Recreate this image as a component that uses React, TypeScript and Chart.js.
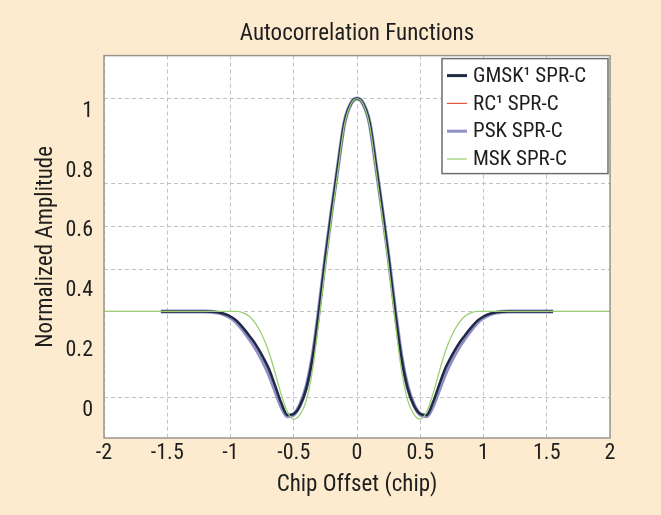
import React, { useEffect, useRef } from "react";
import { Chart, registerables } from "chart.js";

Chart.register(...registerables);

// ---------- text ----------
const chartTitle = "Autocorrelation Functions";
const xAxisTitle = "Chip Offset (chip)";
const yAxisTitle = "Normalized Amplitude";
const seriesNames = ["GMSK\u00B9 SPR-C", "RC\u00B9 SPR-C", "PSK SPR-C", "MSK SPR-C"];

// ---------- data ----------
const chipOffsets = [
  -2, -1.8, -1.6, -1.55, -1.4, -1.2, -1.15, -1.1, -1.05, -1, -0.95, -0.9, -0.85, -0.8, -0.75,
  -0.7, -0.65, -0.6, -0.55, -0.5, -0.45, -0.4, -0.35, -0.3, -0.25, -0.2, -0.15, -0.1, -0.05, 0,
  0.05, 0.1, 0.15, 0.2, 0.25, 0.3, 0.35, 0.4, 0.45, 0.5, 0.55, 0.6, 0.65, 0.7, 0.75,
  0.8, 0.85, 0.9, 0.95, 1, 1.05, 1.1, 1.15, 1.2, 1.4, 1.55, 1.6, 1.8, 2,
];

const gmskValues = [
  null, null, null, 0.287, 0.287, 0.287, 0.286, 0.284, 0.279, 0.27, 0.255, 0.232, 0.205, 0.176, 0.14,
  0.098, 0.042, -0.018, -0.06, -0.056, -0.028, 0.03, 0.135, 0.29, 0.465, 0.625, 0.775, 0.918, 0.982, 1.0,
  0.982, 0.918, 0.775, 0.625, 0.465, 0.29, 0.135, 0.03, -0.028, -0.056, -0.06, -0.018, 0.042, 0.098, 0.14,
  0.176, 0.205, 0.232, 0.255, 0.27, 0.279, 0.284, 0.286, 0.287, 0.287, 0.287, null, null, null,
];

const rcValues = [
  0.287, 0.287, 0.287, 0.287, 0.287, 0.287, 0.287, 0.285, 0.28, 0.271, 0.256, 0.234, 0.207, 0.178, 0.142,
  0.1, 0.044, -0.016, -0.059, -0.057, -0.03, 0.027, 0.132, 0.287, 0.462, 0.622, 0.772, 0.916, 0.981, 1.0,
  0.981, 0.916, 0.772, 0.622, 0.462, 0.287, 0.132, 0.027, -0.03, -0.057, -0.059, -0.016, 0.044, 0.1, 0.142,
  0.178, 0.207, 0.234, 0.256, 0.271, 0.28, 0.285, 0.287, 0.287, 0.287, 0.287, 0.287, 0.287, 0.287,
];

const pskValues = [
  null, null, null, 0.287, 0.287, 0.287, 0.286, 0.283, 0.277, 0.266, 0.249, 0.224, 0.195, 0.163, 0.125,
  0.08, 0.025, -0.03, -0.064, -0.058, -0.026, 0.035, 0.14, 0.295, 0.468, 0.625, 0.775, 0.918, 0.982, 1.0,
  0.982, 0.918, 0.775, 0.625, 0.468, 0.295, 0.14, 0.035, -0.026, -0.058, -0.064, -0.03, 0.025, 0.08, 0.125,
  0.163, 0.195, 0.224, 0.249, 0.266, 0.277, 0.283, 0.286, 0.287, 0.287, 0.287, null, null, null,
];

const mskValues = [
  0.287, 0.287, 0.287, 0.287, 0.287, 0.287, 0.287, 0.287, 0.287, 0.287, 0.287, 0.282, 0.27, 0.245, 0.207,
  0.155, 0.085, 0.01, -0.05, -0.074, -0.058, -0.01, 0.095, 0.26, 0.44, 0.605, 0.76, 0.91, 0.98, 1.0,
  0.98, 0.91, 0.76, 0.605, 0.44, 0.26, 0.095, -0.01, -0.058, -0.074, -0.05, 0.01, 0.085, 0.155, 0.207,
  0.245, 0.27, 0.282, 0.287, 0.287, 0.287, 0.287, 0.287, 0.287, 0.287, 0.287, 0.287, 0.287, 0.287,
];

const xTickValues = [-2, -1.5, -1, -0.5, 0, 0.5, 1, 1.5, 2];
const yTickValues = [0, 0.2, 0.4, 0.6, 0.8, 1];
const yGridValues = [0, 0.286, 0.429, 0.571, 0.714, 1];
const xRange = [-2, 2];
const yRange = [-0.137, 1.144];

// ---------- style ----------
const PAGE_BG = "#fdebcf";
const FONT = "'Roboto Condensed', 'Liberation Sans Narrow', 'DejaVu Sans Condensed', sans-serif";
const TEXT = "#1e1e1e";
const GRID = "#c2c2c2";

const seriesColors = ["#1f2a44", "#e2583e", "rgba(105,105,178,0.75)", "#9ccf74"];
const seriesWidths = [2.5, 1, 4, 1.3];
const seriesOrder = [1, 2, 3, 0];
const legendWidths = [3, 1.2, 3, 1.2];

const toPoints = (vals: (number | null)[]) =>
  chipOffsets
    .map((x, i) => ({ x, y: vals[i] }))
    .filter((p) => p.y !== null) as { x: number; y: number }[];

const allSeries = [gmskValues, rcValues, pskValues, mskValues];

const plotBgPlugin = {
  id: "plotBg",
  beforeDraw(chart: any) {
    const { ctx, chartArea: a } = chart;
    ctx.save();
    ctx.fillStyle = "#ffffff";
    ctx.fillRect(a.left, a.top, a.right - a.left, a.bottom - a.top);
    ctx.restore();
  },
  afterDatasetsDraw(chart: any) {
    const { ctx, chartArea: a } = chart;
    ctx.save();
    ctx.strokeStyle = "#9a968e";
    ctx.lineWidth = 1.5;
    ctx.strokeRect(a.left, a.top, a.right - a.left, a.bottom - a.top);
    ctx.restore();
  },
};

const insideLegendPlugin = {
  id: "insideLegend",
  afterDraw(chart: any) {
    const { ctx, chartArea: a } = chart;
    const boxW = 166;
    const boxH = 115;
    const x0 = a.right - 2 - boxW;
    const y0 = a.top + 3;
    ctx.save();
    ctx.fillStyle = "#ffffff";
    ctx.fillRect(x0, y0, boxW, boxH);
    ctx.strokeStyle = "#6e6e6e";
    ctx.lineWidth = 1.5;
    ctx.strokeRect(x0, y0, boxW, boxH);
    ctx.font = `21px ${FONT}`;
    ctx.textBaseline = "middle";
    ctx.textAlign = "left";
    chart.data.datasets.forEach((ds: any, i: number) => {
      const cy = y0 + 17 + i * 27.8;
      ctx.strokeStyle = ds.borderColor;
      ctx.lineWidth = legendWidths[i];
      ctx.beginPath();
      ctx.moveTo(x0 + 5, cy);
      ctx.lineTo(x0 + 25, cy);
      ctx.stroke();
      ctx.fillStyle = TEXT;
      ctx.fillText(ds.label, x0 + 31, cy + 1);
    });
    ctx.restore();
  },
};

export default function App() {
  const canvasRef = useRef<HTMLCanvasElement>(null);

  useEffect(() => {
    document.body.style.margin = "0";
    document.body.style.background = PAGE_BG;
    const canvas = canvasRef.current;
    if (!canvas) return;

    const chart = new Chart(canvas, {
      type: "line",
      data: {
        datasets: allSeries.map((vals, i) => ({
          label: seriesNames[i],
          data: toPoints(vals),
          borderColor: seriesColors[i],
          backgroundColor: seriesColors[i],
          borderWidth: seriesWidths[i],
          pointRadius: 0,
          fill: false,
          cubicInterpolationMode: "monotone" as const,
          order: seriesOrder[i],
          yAxisID: "y",
          xAxisID: "x",
        })),
      },
      options: {
        responsive: false,
        animation: false,
        devicePixelRatio: 1,
        layout: { padding: { left: 0, right: 51, top: 0, bottom: 0 } },
        plugins: {
          legend: { display: false },
          tooltip: { enabled: false },
          title: {
            display: true,
            fullSize: false,
            text: chartTitle,
            color: TEXT,
            font: { family: FONT, size: 23, weight: "normal" },
            padding: { top: 20, bottom: 8 },
          },
        },
        scales: {
          x: {
            type: "linear",
            min: xRange[0],
            max: xRange[1],
            afterBuildTicks: (axis: any) => {
              axis.ticks = xTickValues.map((v) => ({ value: v }));
            },
            afterFit: (axis: any) => {
              axis.height = 77;
            },
            ticks: {
              color: TEXT,
              font: { family: FONT, size: 22 },
              padding: 2,
              maxRotation: 0,
              autoSkip: false,
              callback: (v: any) => String(v),
            },
            grid: { color: GRID, lineWidth: 1, drawTicks: false },
            border: { display: false, dash: [4, 3] },
            title: {
              display: true,
              text: xAxisTitle,
              color: TEXT,
              font: { family: FONT, size: 23 },
              padding: { top: 6, bottom: 16 },
            },
          },
          y: {
            type: "linear",
            position: "left",
            min: yRange[0],
            max: yRange[1],
            afterBuildTicks: (axis: any) => {
              axis.ticks = yTickValues.map((v) => ({ value: v }));
            },
            afterFit: (axis: any) => {
              axis.width = 104;
            },
            ticks: {
              color: TEXT,
              font: { family: FONT, size: 22 },
              padding: 11,
              labelOffset: 13,
              callback: (v: any) => String(v),
            },
            grid: { display: false, drawTicks: false },
            border: { display: false },
            title: {
              display: true,
              text: yAxisTitle,
              color: TEXT,
              font: { family: FONT, size: 23 },
              padding: { top: 32, bottom: 10 },
            },
          },
          yGrid: {
            type: "linear",
            position: "right",
            min: yRange[0],
            max: yRange[1],
            afterBuildTicks: (axis: any) => {
              axis.ticks = yGridValues.map((v) => ({ value: v }));
            },
            ticks: { display: false },
            grid: { color: GRID, lineWidth: 1, drawTicks: false },
            border: { display: false, dash: [4, 3] },
          },
        },
      },
      plugins: [plotBgPlugin, insideLegendPlugin],
    } as any);

    return () => chart.destroy();
  }, []);

  return (
    <div style={{ width: 661, height: 515, background: PAGE_BG }}>
      <canvas ref={canvasRef} width={661} height={515} style={{ display: "block" }} />
    </div>
  );
}
